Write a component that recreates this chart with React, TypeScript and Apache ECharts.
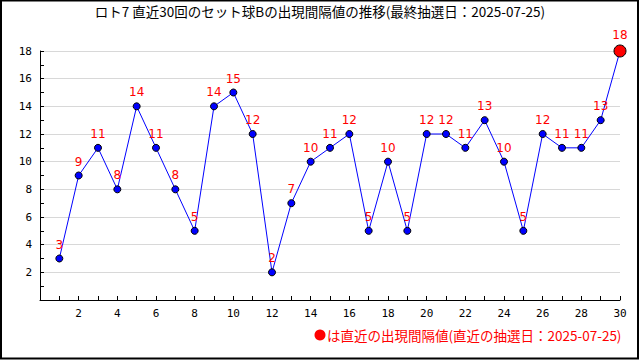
import React, { useEffect, useRef } from "react";
import * as echarts from "echarts";

const draws = [1,2,3,4,5,6,7,8,9,10,11,12,13,14,15,16,17,18,19,20,21,22,23,24,25,26,27,28,29,30];
const intervals = [3,9,11,8,14,11,8,5,14,15,12,2,7,10,11,12,5,10,5,12,12,11,13,10,5,12,11,11,13,18];
const titleText = "ロト7 直近30回のセット球Bの出現間隔値の推移(最終抽選日：2025-07-25)";
const noteText = "は直近の出現間隔値(直近の抽選日：2025-07-25)";

export default function App() {
  const ref = useRef<HTMLDivElement>(null);
  useEffect(() => {
    document.body.style.margin = "0";
    const chart = echarts.init(ref.current!, null, { renderer: "svg" });
    const last = draws.length - 1;
    const data = draws.map((d, i) => {
      const item: any = { value: [d, intervals[i]] };
      if (i === last) {
        item.symbolSize = 12;
        item.itemStyle = { color: "#ff0000", borderColor: "#000", borderWidth: 1 };
      }
      return item;
    });
    chart.setOption({
      animation: false,
      backgroundColor: "#fff",
      textStyle: { fontFamily: "Noto Sans CJK JP" },
      title: {
        text: titleText,
        left: "center",
        top: -1,
        textStyle: { fontSize: 13.5, fontWeight: "normal", color: "#000", fontFamily: "Noto Sans CJK JP" },
      },
      grid: { left: 40, right: 20, top: 51, bottom: 60 },
      xAxis: {
        type: "value",
        min: 0,
        max: 30,
        interval: 2,
        axisLine: { lineStyle: { color: "#000", width: 1 } },
        axisTick: { inside: true, length: 4, lineStyle: { color: "#000" } },
        minorTick: { show: true, splitNumber: 2, length: 4, lineStyle: { color: "#000" } },
        splitLine: { show: false },
        axisLabel: {
          color: "#000",
          fontSize: 11,
          fontFamily: "DejaVu Sans Mono",
          margin: 8,
          formatter: (v: number) => (v === 0 ? "" : String(v)),
        },
      },
      yAxis: {
        type: "value",
        min: 0,
        max: 18,
        interval: 2,
        axisLine: { show: true, lineStyle: { color: "#000", width: 1 } },
        axisTick: { show: true, inside: true, length: 4, lineStyle: { color: "#000" } },
        minorTick: { show: true, splitNumber: 2, length: 4, lineStyle: { color: "#000" } },
        splitLine: { show: true, lineStyle: { color: "#d8d8d8", width: 1 } },
        axisLabel: {
          color: "#000",
          fontSize: 11,
          fontFamily: "DejaVu Sans Mono",
          margin: 8,
          formatter: (v: number) => (v === 0 ? "" : String(v)),
        },
      },
      series: [
        {
          type: "line",
          data,
          symbol: "circle",
          symbolSize: 7,
          lineStyle: { color: "#0000ff", width: 1 },
          itemStyle: { color: "#0000ff", borderColor: "#000", borderWidth: 1 },
          label: {
            show: true,
            position: "top",
            distance: 4,
            color: "#ff0000",
            fontSize: 12,
            fontFamily: "DejaVu Sans",
            formatter: (p: any) => String(p.value[1]),
          },
        },
      ],
      graphic: [
        {
          type: "rect",
          shape: { x: 1, y: 0.5, width: 637, height: 358 },
          style: { fill: "none", stroke: "#000", lineWidth: 2 },
          silent: true,
        },
        {
          type: "circle",
          shape: { cx: 320, cy: 335, r: 5.5 },
          style: { fill: "#ff0000" },
        },
        {
          type: "text",
          x: 327,
          y: 335,
          style: {
            text: noteText,
            fill: "#ff0000",
            fontSize: 13.5,
            fontFamily: "Noto Sans CJK JP",
            verticalAlign: "middle",
            align: "left",
          },
        },
      ],
    });
    return () => chart.dispose();
  }, []);
  return <div ref={ref} style={{ width: 640, height: 360 }} />;
}
